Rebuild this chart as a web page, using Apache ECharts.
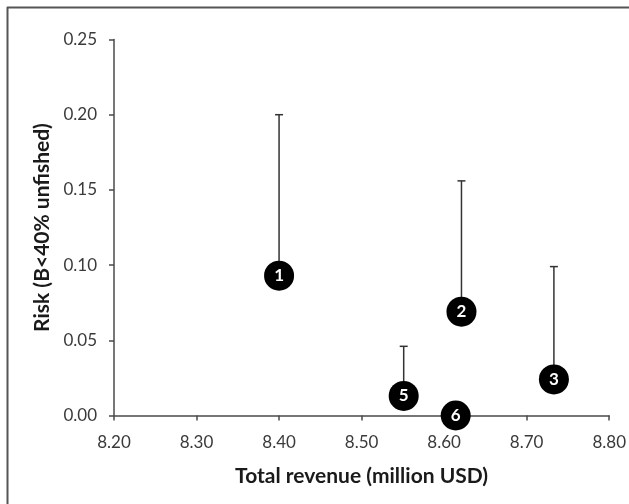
<!DOCTYPE html>
<html>
<head>
<meta charset="utf-8">
<script src="https://cdn.jsdelivr.net/npm/echarts@6/dist/echarts.min.js"></script>
<style>
  html, body { margin: 0; padding: 0; background: #fff; }
  #chart { width: 629px; height: 504px; }
</style>
</head>
<body>
<div id="chart"></div>
<script>
// Management scenarios: revenue vs. risk of falling below 40% of unfished biomass
const scenarios = ['1', '2', '3', '5', '6'];
const revenue   = [8.40, 8.621, 8.733, 8.551, 8.614];
const risk      = [0.093, 0.069, 0.024, 0.013, 0.0];
const riskUpper = [0.200, 0.156, 0.099, 0.046, null];

const xTicks = { min: 8.2, max: 8.8, step: 0.1 };
const yTicks = { min: 0, max: 0.25, step: 0.05 };

const FONT = 'Lato';
const AXIS_COLOR = '#4a4a4a';

const points = scenarios.map((s, i) => ({ name: s, value: [revenue[i], risk[i]] }));
const bars = scenarios
  .map((s, i) => [revenue[i], risk[i], riskUpper[i]])
  .filter(d => d[2] !== null);

const chart = echarts.init(document.getElementById('chart'), null, { renderer: 'canvas' });

chart.setOption({
  backgroundColor: '#fff',
  animation: false,
  grid: { left: 114, right: 18, top: 39.5, bottom: 88.5, containLabel: false },
  graphic: [
    { type: 'line', shape: { x1: 7, y1: 7.5, x2: 629, y2: 7.5 }, style: { stroke: '#555', lineWidth: 2 } },
    { type: 'line', shape: { x1: 7.5, y1: 7, x2: 7.5, y2: 504 }, style: { stroke: '#555', lineWidth: 2 } }
  ],
  xAxis: {
    type: 'value',
    min: xTicks.min, max: xTicks.max, interval: xTicks.step,
    name: 'Total revenue (million USD)',
    nameLocation: 'middle',
    nameGap: 50,
    nameTextStyle: { fontFamily: FONT, fontWeight: 'bold', fontSize: 21, color: '#1a1a1a' },
    axisLine: { show: true, onZero: false, lineStyle: { color: AXIS_COLOR, width: 1.5 } },
    axisTick: { show: true, inside: false, length: 5, lineStyle: { color: AXIS_COLOR, width: 1.5 } },
    axisLabel: { fontFamily: FONT, fontSize: 17, color: '#3a3a3a', margin: 27,
                 verticalAlign: 'middle', formatter: v => v.toFixed(2) },
    splitLine: { show: false }
  },
  yAxis: {
    type: 'value',
    min: yTicks.min, max: yTicks.max, interval: yTicks.step,
    name: 'Risk (B<40% unfished)',
    nameLocation: 'middle',
    nameGap: 60,
    nameTextStyle: { fontFamily: FONT, fontWeight: 'bold', fontSize: 21, color: '#1a1a1a' },
    axisLine: { show: true, lineStyle: { color: AXIS_COLOR, width: 1.5 } },
    axisTick: { show: true, inside: false, length: 5, lineStyle: { color: AXIS_COLOR, width: 1.5 } },
    axisLabel: { fontFamily: FONT, fontSize: 17, color: '#3a3a3a', margin: 17,
                 formatter: v => v.toFixed(2) },
    splitLine: { show: false }
  },
  series: [
    {
      // upper error whiskers
      type: 'custom',
      z: 2,
      data: bars,
      encode: { x: 0, y: [1, 2] },
      renderItem: function (params, api) {
        const x = api.value(0);
        const base = api.coord([x, api.value(1)]);
        const top = api.coord([x, api.value(2)]);
        const cap = 4;
        const style = { stroke: '#333', lineWidth: 1.5 };
        return {
          type: 'group',
          children: [
            { type: 'line', shape: { x1: base[0], y1: base[1], x2: top[0], y2: top[1] }, style },
            { type: 'line', shape: { x1: top[0] - cap, y1: top[1], x2: top[0] + cap, y2: top[1] }, style }
          ]
        };
      }
    },
    {
      type: 'scatter',
      z: 5,
      symbol: 'circle',
      symbolSize: 30,
      itemStyle: { color: '#000', opacity: 1 },
      data: points,
      label: {
        show: true,
        position: 'inside',
        formatter: p => p.name,
        color: '#fff',
        fontFamily: FONT,
        fontWeight: 'bold',
        fontSize: 17
      }
    }
  ]
});
</script>
</body>
</html>
